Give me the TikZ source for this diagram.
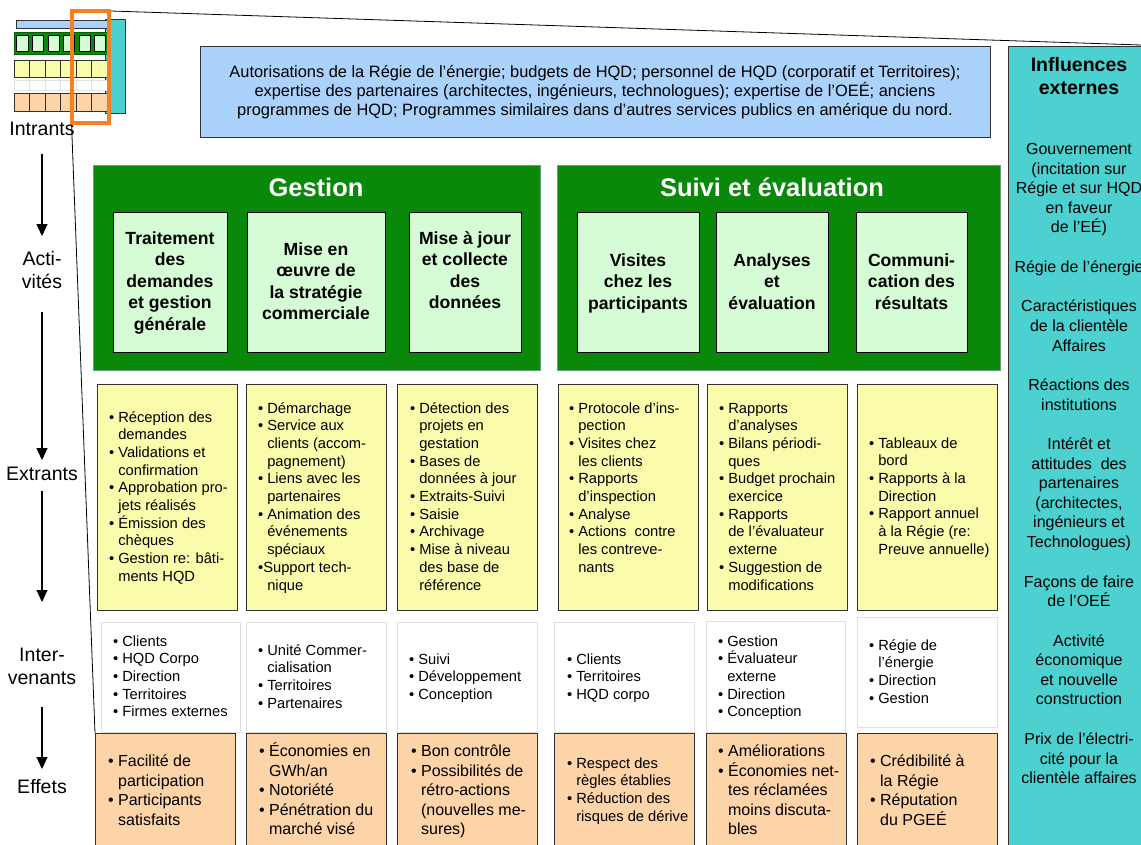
\documentclass[tikz,border=0pt]{standalone}
\usepackage{fontspec}
\setmainfont{Liberation Sans}
\usetikzlibrary{arrows.meta}
\definecolor{blu}{RGB}{170,210,250}
\definecolor{tealc}{RGB}{77,208,208}
\definecolor{dgreen}{RGB}{10,136,10}
\definecolor{lgreen}{RGB}{214,252,214}
\definecolor{yel}{RGB}{251,251,172}
\definecolor{ora}{RGB}{253,211,168}
\definecolor{hl}{RGB}{247,128,30}
\definecolor{wbord}{RGB}{225,225,225}
\definecolor{bord}{RGB}{50,50,50}
\definecolor{gbord}{RGB}{100,160,120}
\newcommand\st[1]{\rule{0pt}{#1pt}}
\newcommand\bl{\makebox[0.62em][l]{•}}
\newcommand\ct{\hspace*{0.62em}}
\newcommand\bx[6]{\node[bx,#2,minimum width={#5-#3},minimum height={#6-#4}] (#1) at (#3,#4) {};}
\newcommand\tl[6]{\node[txl,#1] (#2) at (#3,#4-10) {\st{#5}#6};}
\newcommand\tc[6]{\node[txc,#1] (#2) at (#3,#4-10) {\st{#5}#6};}
\tikzset{
  bx/.style={draw=bord,line width=0.8pt,anchor=north west,inner sep=0pt,outer sep=0pt},
  txl/.style={anchor=north west,inner sep=0pt,align=left},
  txc/.style={anchor=north,inner sep=0pt,align=center},
  fs/.style={font=\fontsize{14.7}{17.7}\selectfont},
  fm/.style={font=\fontsize{16}{19.6}\selectfont},
  fb/.style={font=\fontsize{17.6}{21.5}\selectfont\bfseries},
  fh/.style={font=\fontsize{19.5}{23}\selectfont\bfseries},
  ft/.style={font=\fontsize{25.5}{28}\selectfont\bfseries,text=white},
  fl/.style={font=\fontsize{19.5}{23}\selectfont},
  fin/.style={font=\fontsize{16.4}{19}\selectfont},
  yb/.style={fill=yel},
  ob/.style={fill=ora},
  wb/.style={fill=white,draw=wbord,line width=0.6pt},
  gb/.style={fill=dgreen,draw=gbord},
  lb/.style={fill=lgreen,draw=black},
  arr/.style={line width=1.1pt,-{Triangle[width=11pt,length=12pt]}},
  zl/.style={line width=0.8pt,black}
}
\begin{document}
\begin{tikzpicture}[x=1pt,y=-1pt]
\useasboundingbox (0,0) rectangle (1141,844);
\clip (0,0) rectangle (1141,844);
\fill[white] (0,0) rectangle (1141,844);
% zoom lines
\coordinate (zA) at (111,11);
\coordinate (zB) at (1141,45);
\coordinate (zC) at (71.5,123);
\coordinate (zD) at (95,733);
\draw[zl] (zA) -- (zB);
\draw[zl] (zC) -- (zD);
% thumbnail
\draw[fill=tealc,draw=bord,line width=0.6pt] (105,19) rectangle (125,113);
\draw[fill=blu,draw=bord,line width=0.6pt] (16,20) rectangle (107,28);
\draw[fill=dgreen,draw=dgreen!70!black,line width=0.6pt] (14,32) rectangle (107,54);
\foreach \a/\b in {16/28,32/43,48/59,63/74,79/90,94/105}
  \draw[fill=lgreen,draw=black,line width=0.6pt] (\a,35) rectangle (\b,51);
\foreach \a/\b in {14/29.5,29.5/45,45/60.5,60.5/76,76/91.5,91.5/107}{
  \draw[fill=yel,draw=bord,line width=0.6pt] (\a,60) rectangle (\b,77);
  \draw[fill=white,draw=wbord,line width=0.6pt] (\a,80) rectangle (\b,90);
  \draw[fill=ora,draw=bord,line width=0.6pt] (\a,93) rectangle (\b,111);
}
\draw[hl,line width=4pt] (71.5,10.5) rectangle (109,123);
% main boxes
\bx{inp}{fill=blu}{200}{46}{990}{137}
\bx{ext}{fill=tealc}{1008}{46}{1170}{870}
\bx{gest}{gb}{93}{165}{540}{370}
\bx{suiv}{gb}{557}{165}{1000}{370}
\bx{g1}{lb}{113}{212}{227}{352}
\bx{g2}{lb}{247}{212}{385}{352}
\bx{g3}{lb}{409}{212}{521}{352}
\bx{s1}{lb}{577}{212}{699}{352}
\bx{s2}{lb}{716}{212}{828}{352}
\bx{s3}{lb}{856}{212}{967}{352}
\bx{y1}{yb}{97}{384}{237}{610}
\bx{y2}{yb}{246}{384}{386}{610}
\bx{y3}{yb}{397}{384}{537}{610}
\bx{y4}{yb}{558}{384}{698}{610}
\bx{y5}{yb}{707}{384}{847}{610}
\bx{y6}{yb}{857}{384}{997}{610}
\bx{w1}{wb}{101}{622}{240}{732}
\bx{w2}{wb}{246}{622}{386}{732}
\bx{w3}{wb}{397}{622}{537}{732}
\bx{w4}{wb}{554}{622}{694}{732}
\bx{w5}{wb}{706}{621}{845}{732}
\bx{w6}{wb}{857}{617}{997}{727}
\bx{o1}{ob}{95}{733}{235}{870}
\bx{o2}{ob}{246}{733}{386}{870}
\bx{o3}{ob}{397}{733}{537}{870}
\bx{o4}{ob}{554}{733}{694}{870}
\bx{o5}{ob}{706}{733}{846}{870}
\bx{o6}{ob}{857}{733}{997}{870}
% left labels
\tc{fl}{intr}{42}{129}{16.4}{Intrants}
\tc{fl}{acti}{42}{259}{16.4}{Acti-\\vités}
\tc{fl}{extr}{42}{474}{16.4}{Extrants}
\tc{fl}{inter}{42}{655}{16.4}{Inter-\\venants}
\tc{fl}{eff}{42}{787}{16.4}{Effets}
\draw[arr,shorten <=17.6pt,shorten >=13pt] (intr.south) -- (acti.north);
\draw[arr,shorten <=22.6pt,shorten >=4pt] (acti.south) -- (extr.north);
\draw[arr,shorten <=9.6pt,shorten >=43pt] (extr.south) -- (inter.north);
\draw[arr,shorten <=21.6pt,shorten >=8pt] (inter.south) -- (eff.north);
% inputs text
\tc{fin}{tinp}{595}{72}{15.4}{Autorisations de la Régie de l’énergie; budgets de HQD; personnel de HQD (corporatif et Territoires);\\expertise des partenaires (architectes, ingénieurs, technologues); expertise de l’OEÉ; anciens\\programmes de HQD; Programmes similaires dans d’autres services publics en amérique du nord.}
% green titles
\tc{ft}{tgest}{316}{188}{18.4}{Gestion}
\tc{ft}{tsuiv}{772}{188}{18.4}{Suivi et évaluation}
\tc{fb}{tg1}{170}{238}{15.8}{Traitement\\des\\demandes\\et gestion\\générale}
\tc{fb}{tg2}{316}{249}{15.8}{Mise en\\œuvre de\\la stratégie\\commerciale}
\tc{fb}{tg3}{465}{238}{15.8}{Mise à jour\\et collecte\\des\\données}
\tc{fb}{ts1}{638}{260}{15.8}{Visites\\chez les\\participants}
\tc{fb}{ts2}{772}{260}{15.8}{Analyses\\et\\évaluation}
\tc{fb}{ts3}{911.5}{260}{15.8}{Communi-\\cation des\\résultats}
% yellow texts
\tl{fs}{ty1}{109}{417}{14.8}{\bl Réception des\\\ct demandes\\\bl Validations et\\\ct confirmation\\\bl Approbation pro-\\\ct jets réalisés\\\bl Émission des\\\ct chèques\\\bl Gestion re: bâti-\\\ct ments HQD}
\tl{fs}{ty2}{258}{408}{14.8}{\bl Démarchage\\\bl Service aux\\\ct clients (accom-\\\ct pagnement)\\\bl Liens avec les\\\ct partenaires\\\bl Animation des\\\ct événements\\\ct spéciaux\\•Support tech-\\\ct nique}
\tl{fs}{ty3}{410}{408}{14.8}{\bl Détection des\\\ct projets en\\\ct gestation\\\bl Bases de\\\ct données à jour\\\bl Extraits-Suivi\\\bl Saisie\\\bl Archivage\\\bl Mise à niveau\\\ct des base de\\\ct référence}
\tl{fs}{ty4}{569}{408}{14.8}{\bl Protocole d’ins-\\\ct pection\\\bl Visites chez\\\ct les clients\\\bl Rapports\\\ct d’inspection\\\bl Analyse\\\bl Actions\ \ contre\\\ct les contreve-\\\ct nants}
\tl{fs}{ty5}{719}{408}{14.8}{\bl Rapports\\\ct d’analyses\\\bl Bilans périodi-\\\ct ques\\\bl Budget prochain\\\ct exercice\\\bl Rapports\\\ct de l’évaluateur\\\ct externe\\\bl Suggestion de\\\ct modifications}
\tl{fs}{ty6}{869}{443}{14.8}{\bl Tableaux de\\\ct bord\\\bl Rapports à la\\\ct Direction\\\bl Rapport annuel\\\ct à la Régie (re:\\\ct Preuve annuelle)}
% white texts
\tl{fs}{tw1}{113}{641}{14.8}{\bl Clients\\\bl HQD Corpo\\\bl Direction\\\bl Territoires\\\bl Firmes externes}
\tl{fs}{tw2}{258}{650}{14.8}{\bl Unité Commer-\\\ct cialisation\\\bl Territoires\\\bl Partenaires}
\tl{fs}{tw3}{409}{659}{14.8}{\bl Suivi\\\bl Développement\\\bl Conception}
\tl{fs}{tw4}{567}{659}{14.8}{\bl Clients\\\bl Territoires\\\bl HQD corpo}
\tl{fs}{tw5}{718}{641}{14.8}{\bl Gestion\\\bl Évaluateur\\\ct externe\\\bl Direction\\\bl Conception}
\tl{fs}{tw6}{869}{645}{14.8}{\bl Régie de\\\ct l’énergie\\\bl Direction\\\bl Gestion}
% orange texts
\tl{fm}{to1}{108}{761}{15.3}{\bl Facilité de\\\ct participation\\\bl Participants\\\ct satisfaits}
\tl{fm}{to2}{259}{751}{15.3}{\bl Économies en\\\ct GWh/an\\\bl Notoriété\\\bl Pénétration du\\\ct marché visé}
\tl{fm}{to3}{411}{751}{15.3}{\bl Bon contrôle\\\bl Possibilités de\\\ct rétro-actions\\\ct (nouvelles me-\\\ct sures)}
\tl{fs}{to4}{567}{763}{14.8}{\bl Respect des\\\ct règles établies\\\bl Réduction des\\\ct risques de dérive}
\tl{fm}{to5}{718}{751}{15.3}{\bl Améliorations\\\bl Économies net-\\\ct tes réclamées\\\ct moins discuta-\\\ct bles}
\tl{fm}{to6}{870}{761}{15.3}{\bl Crédibilité à\\\ct la Régie\\\bl Réputation\\\ct du PGEÉ}
% external influences
\tc{fh}{tex}{1079}{65}{16.4}{Influences\\externes}
\tc{fm}{te1}{1079}{149}{15.3}{Gouvernement\\(incitation sur\\Régie et sur HQD\\en faveur\\de l’EÉ)}
\tc{fm}{te2}{1079}{267}{15.3}{Régie de l’énergie}
\tc{fm}{te3}{1079}{306.3}{15.3}{Caractéristiques\\de la clientèle\\Affaires}
\tc{fm}{te4}{1079}{385}{15.3}{Réactions des\\institutions}
\tc{fm}{te5}{1079}{444}{15.3}{Intérêt et\\attitudes\ \ des\\partenaires\\(architectes,\\ingénieurs et\\Technologues)}
\tc{fm}{te6}{1079}{581.5}{15.3}{Façons de faire\\de l’OEÉ}
\tc{fm}{te7}{1079}{640.5}{15.3}{Activité\\économique\\et nouvelle\\construction}
\tc{fm}{te8}{1079}{739}{15.3}{Prix de l’électri-\\cité pour la\\clientèle affaires}
\end{tikzpicture}
\end{document}
